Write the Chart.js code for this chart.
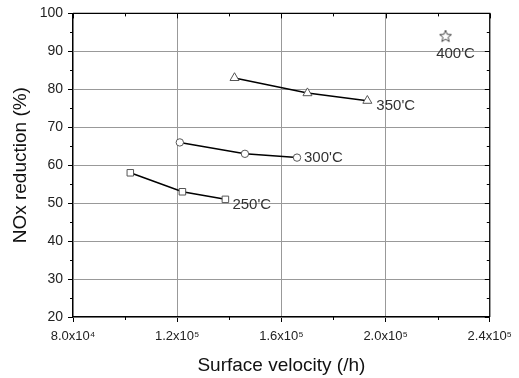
<!DOCTYPE html>
<html><head><meta charset="utf-8">
<script src="https://cdn.jsdelivr.net/npm/chart.js@4/dist/chart.umd.min.js"></script>
<style>html,body{margin:0;padding:0;background:#fff}#wrap{width:519px;height:378px}</style>
</head><body><div id="wrap"><canvas id="c" width="519" height="378"></canvas></div>
<script>
const seriesNames = ["250'C", "300'C", "350'C", "400'C"];
const v250 = [1.02e5, 1.22e5, 1.385e5];
const r250 = [58, 53, 51];
const v300 = [1.21e5, 1.46e5, 1.66e5];
const r300 = [66, 63, 62];
const v350 = [1.42e5, 1.70e5, 1.93e5];
const r350 = [83, 79, 77];
const v400 = [2.23e5];
const r400 = [94];
const xTickLabels = ["8.0x10\u2074", "1.2x10\u2075", "1.6x10\u2075", "2.0x10\u2075", "2.4x10\u2075"];
const xMinorTicks = [1.0e5, 1.4e5, 1.8e5, 2.2e5];
const yMinorTicks = [25, 35, 45, 55, 65, 75, 85, 95];

const FONT = "'Liberation Sans', Arial, sans-serif";

function starImg() {
  const c = document.createElement('canvas'); c.width = 14; c.height = 14;
  const g = c.getContext('2d');
  g.beginPath();
  for (let i = 0; i < 10; i++) {
    const r = i % 2 === 0 ? 6.3 : 2.7;
    const a = -Math.PI / 2 + i * Math.PI / 5;
    const px = 7 + r * Math.cos(a), py = 7.3 + r * Math.sin(a);
    i === 0 ? g.moveTo(px, py) : g.lineTo(px, py);
  }
  g.closePath(); g.fillStyle = '#fff'; g.fill();
  g.strokeStyle = '#444'; g.lineWidth = 1; g.stroke();
  return c;
}

function pts(xs, ys) { return xs.map((x, i) => ({ x: x, y: ys[i] })); }

const labelOffsets = [[7, 6], [7, 0], [9, 5], [10, 18]];

const decor = {
  id: 'decor',
  afterDraw(chart) {
    const ctx = chart.ctx, xs = chart.scales.x, ys = chart.scales.y, a = chart.chartArea;
    ctx.save();
    ctx.strokeStyle = '#000'; ctx.lineWidth = 1.2;
    ctx.beginPath();
    ctx.moveTo(a.left, a.top); ctx.lineTo(a.right, a.top); ctx.lineTo(a.right, a.bottom);
    ctx.stroke();
    ctx.lineWidth = 1;
    ctx.beginPath();
    xMinorTicks.forEach(v => {
      const p = Math.round(xs.getPixelForValue(v)) + 0.5;
      ctx.moveTo(p, a.bottom); ctx.lineTo(p, a.bottom + 3);
      ctx.moveTo(p, a.top); ctx.lineTo(p, a.top + 3);
    });
    xs.ticks.forEach(t => {
      const p = Math.round(xs.getPixelForValue(t.value)) + 0.5;
      ctx.moveTo(p, a.top); ctx.lineTo(p, a.top + 5);
    });
    yMinorTicks.forEach(v => {
      const p = Math.round(ys.getPixelForValue(v)) + 0.5;
      ctx.moveTo(a.left, p); ctx.lineTo(a.left - 3, p);
      ctx.moveTo(a.right, p); ctx.lineTo(a.right - 3, p);
    });
    ys.ticks.forEach(t => {
      const p = Math.round(ys.getPixelForValue(t.value)) + 0.5;
      ctx.moveTo(a.right, p); ctx.lineTo(a.right - 5, p);
    });
    ctx.stroke();
    ctx.fillStyle = '#333';
    ctx.font = '15px ' + FONT;
    ctx.textBaseline = 'middle';
    chart.data.datasets.forEach((ds, i) => {
      const last = ds.data[ds.data.length - 1];
      const px = xs.getPixelForValue(last.x), py = ys.getPixelForValue(last.y);
      const off = labelOffsets[i];
      ctx.textAlign = i === 3 ? 'center' : 'left';
      ctx.fillText(seriesNames[i], px + off[0], py + off[1]);
    });
    ctx.restore();
  }
};

const common = {
  showLine: true, borderColor: '#000', borderWidth: 1.5,
  pointBorderColor: '#555', pointBackgroundColor: '#fff', pointBorderWidth: 1,
  tension: 0
};

new Chart(document.getElementById('c'), {
  type: 'scatter',
  data: {
    datasets: [
      Object.assign({}, common, { label: seriesNames[0], data: pts(v250, r250), pointStyle: 'rect', pointRadius: 4.6 }),
      Object.assign({}, common, { label: seriesNames[1], data: pts(v300, r300), pointStyle: 'circle', pointRadius: 3.7 }),
      Object.assign({}, common, { label: seriesNames[2], data: pts(v350, r350), pointStyle: 'triangle', pointRadius: 5.2 }),
      Object.assign({}, common, { label: seriesNames[3], data: pts(v400, r400), pointStyle: starImg(), showLine: false })
    ]
  },
  options: {
    responsive: false, animation: false,
    layout: { padding: { top: 13, right: 26, left: 0, bottom: 0 } },
    plugins: { legend: { display: false }, tooltip: { enabled: false } },
    scales: {
      x: {
        type: 'linear', min: 8e4, max: 2.4e5,
        afterBuildTicks(s) { s.ticks = [8e4, 1.2e5, 1.6e5, 2.0e5, 2.4e5].map(v => ({ value: v })); },
        afterFit(s) { s.height = 61; },
        ticks: {
          color: '#222', font: { family: FONT, size: 13 }, padding: 7, maxRotation: 0,
          callback: (v, i) => xTickLabels[i]
        },
        grid: { color: '#999', lineWidth: 1, drawTicks: true, tickLength: 5, tickColor: '#000' },
        border: { color: '#000', width: 1.2 },
        title: { display: true, text: 'Surface velocity (/h)', color: '#111', font: { family: FONT, size: 19 }, padding: { top: 0, bottom: 1 } }
      },
      y: {
        type: 'linear', min: 20, max: 100,
        ticks: { stepSize: 10, color: '#222', font: { family: FONT, size: 14 }, padding: 5 },
        afterFit(s) { s.width = 73; },
        grid: { color: '#999', lineWidth: 1, drawTicks: true, tickLength: 5, tickColor: '#000' },
        border: { color: '#000', width: 1.2 },
        title: { display: true, text: 'NOx reduction (%)', color: '#111', font: { family: FONT, size: 19 }, padding: { top: 9, bottom: 0 } }
      }
    }
  },
  plugins: [decor]
});
</script>
</body></html>
